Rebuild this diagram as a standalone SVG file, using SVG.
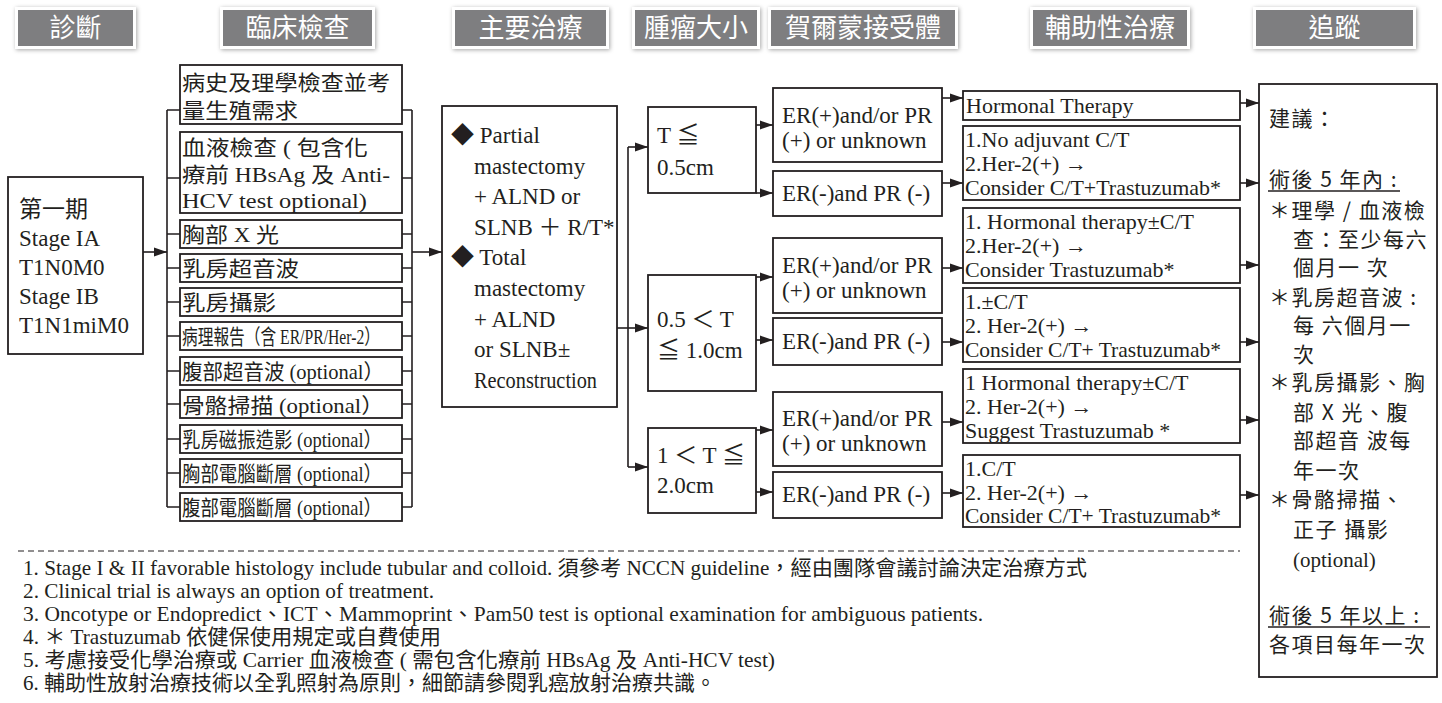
<svg xmlns="http://www.w3.org/2000/svg" width="1442" height="703" viewBox="0 0 1442 703">
<defs>
<filter id="sh" x="-20%" y="-40%" width="140%" height="180%">
<feDropShadow dx="1" dy="1" stdDeviation="2" flood-color="#000" flood-opacity="0.35"/>
</filter>
<marker id="a" markerUnits="userSpaceOnUse" markerWidth="14" markerHeight="10" refX="13" refY="5" orient="auto">
<path d="M0,0.5 L13,5 L0,9.5 z" fill="#231f20"/>
</marker>
<style>
.box{fill:#fff;stroke:#231f20;stroke-width:1.8}
.ln{stroke:#231f20;stroke-width:1.6;fill:none}
.ar{stroke:#231f20;stroke-width:1.6;fill:none;marker-end:url(#a)}
.hw{fill:#fff;filter:url(#sh)}
.hg{fill:#7e7e80}
.ht{font-family:"Noto Sans CJK TC",sans-serif;font-size:26px;fill:#fff;text-anchor:middle}
.t{font-family:"Liberation Serif","Noto Sans CJK TC",serif;font-size:23px;fill:#231f20}
.c{font-family:"Liberation Serif","Noto Sans CJK TC",serif;font-size:21px;fill:#231f20}
.o{font-family:"Liberation Serif","Noto Sans CJK TC",serif;font-size:22px;fill:#231f20}
.f{font-family:"Liberation Serif","Noto Sans CJK TC",serif;font-size:21px;fill:#231f20}
.fu{font-family:"Noto Sans CJK TC","Liberation Serif",sans-serif;font-size:21px;fill:#231f20;letter-spacing:1.5px}
.fn{font-family:"Liberation Serif","Noto Sans CJK TC",serif;font-size:21px;fill:#231f20}
</style>
</defs>

<g id="headers">
<g id="h1"><rect class="hw" x="15" y="7" width="121" height="42"/><rect class="hg" x="18" y="10" width="115" height="36"/><text class="ht" x="75.5" y="37">診斷</text></g>
<g id="h2"><rect class="hw" x="220" y="7" width="155" height="42"/><rect class="hg" x="223" y="10" width="149" height="36"/><text class="ht" x="297.5" y="37">臨床檢查</text></g>
<g id="h3"><rect class="hw" x="452" y="7" width="157" height="42"/><rect class="hg" x="455" y="10" width="151" height="36"/><text class="ht" x="530.5" y="37">主要治療</text></g>
<g id="h4"><rect class="hw" x="632" y="7" width="128" height="42"/><rect class="hg" x="635" y="10" width="122" height="36"/><text class="ht" x="696" y="37">腫瘤大小</text></g>
<g id="h5"><rect class="hw" x="768" y="7" width="190" height="42"/><rect class="hg" x="771" y="10" width="184" height="36"/><text class="ht" x="863" y="37">賀爾蒙接受體</text></g>
<g id="h6"><rect class="hw" x="1030" y="7" width="160" height="42"/><rect class="hg" x="1033" y="10" width="154" height="36"/><text class="ht" x="1110" y="37">輔助性治療</text></g>
<g id="h7"><rect class="hw" x="1253" y="7" width="163" height="42"/><rect class="hg" x="1256" y="10" width="157" height="36"/><text class="ht" x="1334.5" y="37">追蹤</text></g>
</g>

<g id="connectors">
<path class="ln" d="M167,110 V507 M412,110 V507 M628,147 V467"/>
<path class="ln" d="M167,110 H180 M167,178 H180 M167,234 H180 M167,268 H180 M167,302 H180 M167,336 H180 M167,371 H180 M167,404 H180 M167,439 H180 M167,473 H180 M167,507 H180"/>
<path class="ln" d="M402,110 H412 M402,178 H412 M402,234 H412 M402,268 H412 M402,302 H412 M402,336 H412 M402,371 H412 M402,404 H412 M402,439 H412 M402,473 H412 M402,507 H412"/>
<path class="ar" d="M143,252 H167"/>
<path class="ar" d="M412,252 H442"/>
<path class="ar" d="M617,328 H648"/>
<path class="ar" d="M628,147 H648"/>
<path class="ar" d="M628,467 H648"/>
<path class="ar" d="M756,125 H773"/>
<path class="ar" d="M756,193 H773"/>
<path class="ar" d="M756,277 H773"/>
<path class="ar" d="M756,340 H773"/>
<path class="ar" d="M756,430 H773"/>
<path class="ar" d="M756,492 H773"/>
<path class="ar" d="M942,98 H963"/>
<path class="ar" d="M942,183 H963"/>
<path class="ar" d="M942,268 H963"/>
<path class="ar" d="M942,342 H963"/>
<path class="ar" d="M942,422 H963"/>
<path class="ar" d="M942,493 H963"/>
<path class="ar" d="M1240,103 H1259"/>
<path class="ar" d="M1240,183 H1259"/>
<path class="ar" d="M1240,265 H1259"/>
<path class="ar" d="M1240,342 H1259"/>
<path class="ar" d="M1240,420 H1259"/>
<path class="ar" d="M1240,495 H1259"/>
</g>

<g id="stage">
<rect class="box" x="8" y="177" width="135" height="177"/>
<text class="t" x="19" y="217">第一期</text>
<text class="t" x="19" y="246">Stage IA</text>
<text class="t" x="19" y="275">T1N0M0</text>
<text class="t" x="19" y="304">Stage IB</text>
<text class="t" x="19" y="333">T1N1miM0</text>
</g>

<g id="exam1"><rect class="box" x="180" y="65" width="222" height="59"/>
<text class="c" x="182" y="90" textLength="208" lengthAdjust="spacingAndGlyphs">病史及理學檢查並考</text>
<text class="c" x="182" y="118" textLength="116" lengthAdjust="spacingAndGlyphs">量生殖需求</text></g>
<g id="exam2"><rect class="box" x="180" y="132" width="222" height="81"/>
<text class="c" x="182" y="155" textLength="186" lengthAdjust="spacingAndGlyphs">血液檢查 ( 包含化</text>
<text class="c" x="182" y="182" textLength="208" lengthAdjust="spacingAndGlyphs">療前 HBsAg 及 Anti-</text>
<text class="c" x="182" y="208" textLength="185" lengthAdjust="spacingAndGlyphs">HCV test  optional)</text></g>
<g id="exam3"><rect class="box" x="180" y="220" width="222" height="28"/><text class="c" x="182" y="242" textLength="97" lengthAdjust="spacingAndGlyphs">胸部 X 光</text></g>
<g id="exam4"><rect class="box" x="180" y="254" width="222" height="28"/><text class="c" x="182" y="276" textLength="117" lengthAdjust="spacingAndGlyphs">乳房超音波</text></g>
<g id="exam5"><rect class="box" x="180" y="288" width="222" height="28"/><text class="c" x="182" y="310" textLength="94" lengthAdjust="spacingAndGlyphs">乳房攝影</text></g>
<g id="exam6"><rect class="box" x="180" y="322" width="222" height="28"/><text class="c" x="182" y="344" textLength="198" lengthAdjust="spacingAndGlyphs">病理報告（含 ER/PR/Her-2）</text></g>
<g id="exam7"><rect class="box" x="180" y="357" width="222" height="28"/><text class="c" x="182" y="379" textLength="202" lengthAdjust="spacingAndGlyphs">腹部超音波 (optional）</text></g>
<g id="exam8"><rect class="box" x="180" y="390" width="222" height="28"/><text class="c" x="182" y="413" font-size="23" textLength="202" lengthAdjust="spacingAndGlyphs">骨骼掃描 (optional）</text></g>
<g id="exam9"><rect class="box" x="180" y="425" width="222" height="28"/><text class="c" x="182" y="447" textLength="200" lengthAdjust="spacingAndGlyphs">乳房磁振造影 (optional）</text></g>
<g id="exam10"><rect class="box" x="180" y="459" width="222" height="28"/><text class="c" x="182" y="481" textLength="200" lengthAdjust="spacingAndGlyphs">胸部電腦斷層 (optional）</text></g>
<g id="exam11"><rect class="box" x="180" y="493" width="222" height="28"/><text class="c" x="182" y="515" textLength="200" lengthAdjust="spacingAndGlyphs">腹部電腦斷層 (optional）</text></g>

<g id="surgery">
<rect class="box" x="442" y="106" width="175" height="301"/>
<text class="t" x="451" y="143">◆ Partial</text>
<text class="t" x="474" y="174">mastectomy</text>
<text class="t" x="474" y="204">+  ALND or</text>
<text class="t" x="474" y="235">SLNB ＋ R/T*</text>
<text class="t" x="451" y="265">◆ Total</text>
<text class="t" x="474" y="296">mastectomy</text>
<text class="t" x="474" y="327">+  ALND</text>
<text class="t" x="474" y="357">or SLNB±</text>
<text class="t" x="474" y="388" textLength="123" lengthAdjust="spacingAndGlyphs">Reconstruction</text>
</g>

<g id="size1"><rect class="box" x="648" y="107" width="108" height="86"/>
<text class="t" x="657" y="143">T ≦</text><text class="t" x="657" y="175">0.5cm</text></g>
<g id="size2"><rect class="box" x="648" y="275" width="108" height="116"/>
<text class="t" x="657" y="327">0.5 ＜ T</text><text class="t" x="657" y="358">≦ 1.0cm</text></g>
<g id="size3"><rect class="box" x="648" y="428" width="108" height="85"/>
<text class="t" x="657" y="463">1 ＜ T ≦</text><text class="t" x="657" y="493">2.0cm</text></g>

<g id="er1"><rect class="box" x="773" y="88" width="169" height="74"/>
<text class="t" x="782" y="123">ER(+)and/or PR</text><text class="t" x="782" y="148">(+) or unknown</text></g>
<g id="er2"><rect class="box" x="773" y="171" width="169" height="45"/><text class="t" x="782" y="201">ER(-)and PR (-)</text></g>
<g id="er3"><rect class="box" x="773" y="238" width="169" height="75"/>
<text class="t" x="782" y="273">ER(+)and/or PR</text><text class="t" x="782" y="298">(+) or unknown</text></g>
<g id="er4"><rect class="box" x="773" y="318" width="169" height="47"/><text class="t" x="782" y="349">ER(-)and PR (-)</text></g>
<g id="er5"><rect class="box" x="773" y="392" width="169" height="74"/>
<text class="t" x="782" y="426">ER(+)and/or PR</text><text class="t" x="782" y="451">(+) or unknown</text></g>
<g id="er6"><rect class="box" x="773" y="472" width="169" height="46"/><text class="t" x="782" y="502">ER(-)and PR (-)</text></g>

<g id="adj1"><rect class="box" x="963" y="91" width="277" height="29"/><text class="o" x="966" y="113" font-size="23">Hormonal Therapy</text></g>
<g id="adj2"><rect class="box" x="963" y="126" width="277" height="74"/>
<text class="o" x="965" y="147">1.No adjuvant C/T</text><text class="o" x="965" y="171">2.Her-2(+) →</text>
<text class="o" x="965" y="195" textLength="256" lengthAdjust="spacingAndGlyphs">Consider C/T+Trastuzumab*</text></g>
<g id="adj3"><rect class="box" x="963" y="208" width="277" height="75"/>
<text class="o" x="965" y="229">1. Hormonal therapy±C/T</text><text class="o" x="965" y="253">2.Her-2(+) →</text>
<text class="o" x="965" y="277">Consider Trastuzumab*</text></g>
<g id="adj4"><rect class="box" x="963" y="288" width="277" height="74"/>
<text class="o" x="965" y="309">1.±C/T</text><text class="o" x="965" y="333">2. Her-2(+) →</text>
<text class="o" x="965" y="357" textLength="256" lengthAdjust="spacingAndGlyphs">Consider C/T+ Trastuzumab*</text></g>
<g id="adj5"><rect class="box" x="963" y="369" width="277" height="74"/>
<text class="o" x="965" y="390">1 Hormonal therapy±C/T</text><text class="o" x="965" y="414">2. Her-2(+) →</text>
<text class="o" x="965" y="438">Suggest Trastuzumab *</text></g>
<g id="adj6"><rect class="box" x="963" y="455" width="277" height="72"/>
<text class="o" x="965" y="476">1.C/T</text><text class="o" x="965" y="500">2. Her-2(+) →</text>
<text class="o" x="965" y="523" textLength="256" lengthAdjust="spacingAndGlyphs">Consider C/T+ Trastuzumab*</text></g>

<g id="followup">
<rect class="box" x="1259" y="84" width="178" height="593"/>
<text class="fu" x="1269" y="126">建議：</text>
<text class="fu" x="1269" y="187">術後 5 年內 :</text>
<line class="ln" x1="1268" y1="191" x2="1400" y2="191" stroke-width="1.2"/>
<text class="fu" x="1269" y="218">＊理學 / 血液檢</text>
<text class="fu" x="1293" y="247">查：至少每六</text>
<text class="fu" x="1293" y="275">個月一 次</text>
<text class="fu" x="1269" y="305">＊乳房超音波 :</text>
<text class="fu" x="1293" y="333">每 六個月一</text>
<text class="fu" x="1293" y="362">次</text>
<text class="fu" x="1269" y="390">＊乳房攝影、胸</text>
<text class="fu" x="1293" y="420">部 X 光、腹</text>
<text class="fu" x="1293" y="448">部超音 波每</text>
<text class="fu" x="1293" y="478">年一次</text>
<text class="fu" x="1269" y="507">＊骨骼掃描、</text>
<text class="fu" x="1293" y="537">正子 攝影</text>
<text class="f" x="1293" y="567">(optional)</text>
<text class="fu" x="1269" y="623">術後 5 年以上 :</text>
<line class="ln" x1="1268" y1="627" x2="1430" y2="627" stroke-width="1.2"/>
<text class="fu" x="1269" y="652">各項目每年一次</text>
</g>

<g id="notes">
<line x1="18" y1="551" x2="1240" y2="551" stroke="#231f20" stroke-width="1" stroke-dasharray="6 4"/>
<text class="fn" x="23" y="575" textLength="1064" lengthAdjust="spacingAndGlyphs">1. Stage I &amp; II favorable histology include tubular and colloid. 須參考 NCCN guideline，經由團隊會議討論決定治療方式</text>
<text class="fn" x="23" y="598" textLength="411" lengthAdjust="spacingAndGlyphs">2. Clinical trial is always an option of treatment.</text>
<text class="fn" x="23" y="621" textLength="960" lengthAdjust="spacingAndGlyphs">3. Oncotype or Endopredict、ICT、Mammoprint、Pam50 test is optional examination for ambiguous patients.</text>
<text class="fn" x="23" y="644" textLength="418" lengthAdjust="spacingAndGlyphs">4. ＊ Trastuzumab 依健保使用規定或自費使用</text>
<text class="fn" x="23" y="667" textLength="752" lengthAdjust="spacingAndGlyphs">5. 考慮接受化學治療或 Carrier 血液檢查 ( 需包含化療前 HBsAg 及 Anti-HCV test)</text>
<text class="fn" x="23" y="690" textLength="693" lengthAdjust="spacingAndGlyphs">6. 輔助性放射治療技術以全乳照射為原則，細節請參閱乳癌放射治療共識。</text>
</g>
</svg>
